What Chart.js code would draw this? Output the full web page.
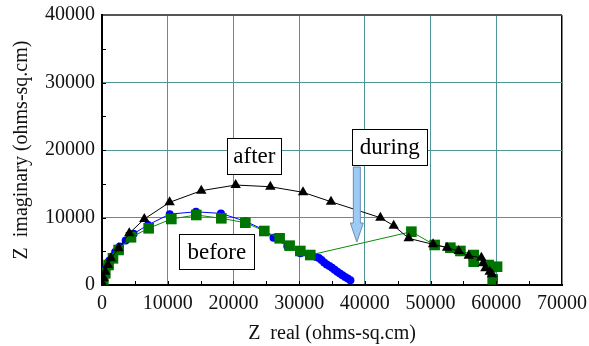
<!DOCTYPE html>
<html>
<head>
<meta charset="utf-8">
<script src="https://cdn.jsdelivr.net/npm/chart.js@4/dist/chart.umd.min.js"></script>
<style>
  html, body { margin: 0; padding: 0; background: #fff; }
  #wrap { width: 589px; height: 346px; }
</style>
</head>
<body>
<div id="wrap"><canvas id="nyquist"></canvas></div>
<script>
// ═══════════ DATA ═══════════
const xTicks = [0, 10000, 20000, 30000, 40000, 50000, 60000, 70000];
const yTicks = [0, 10000, 20000, 30000, 40000];

const afterX = [0, 250, 500, 900, 1370, 2530, 4150, 6440, 10290, 15110, 20340, 25620, 30590, 34850, 42360, 44390, 46670, 50380, 52510, 54280, 55800, 57730, 57990, 58340, 59000, 59360];
const afterY = [300, 1000, 1970, 2960, 3950, 5440, 7660, 9780, 12250, 13970, 14810, 14560, 13730, 12340, 9970, 8790, 6910, 6020, 5530, 5040, 4340, 4050, 3210, 2470, 1970, 1590];

const duringX = [0, 200, 500, 1000, 1670, 2530, 4410, 7100, 10550, 14350, 18160, 21810, 24700, 27030, 28550, 30180, 31700, 47080, 50620, 53010, 54540, 56560, 56560, 58840, 60120, 59450];
const duringY = [300, 800, 1730, 2960, 3950, 5190, 7070, 8400, 9780, 10370, 9880, 9230, 8000, 6920, 5830, 5040, 4440, 7900, 5930, 5530, 5040, 4440, 3450, 2960, 2710, 840];

const beforeX = [0, 100, 200, 350, 550, 800, 1100, 1500, 2000, 2700, 3600, 4800, 7000, 10300, 14300, 18100, 21800, 24700, 26100, 28200, 30200, 31800, 32600, 33000, 33400, 33800, 34200, 34600, 35000, 35400, 35800, 36200, 36600, 37000, 37400, 37800];
const beforeY = [300, 800, 1300, 1800, 2400, 3000, 3600, 4200, 4900, 5700, 6600, 7600, 8900, 10500, 10850, 10600, 9450, 8150, 7000, 5750, 4700, 4300, 4150, 4000, 3700, 3350, 3050, 2800, 2550, 2250, 1980, 1720, 1460, 1200, 950, 700];

const labels = [
    { text: 'after', x: 23180, y: 19110, w: 54, h: 36 },
    { text: 'before', x: 17470, y: 4930, w: 75, h: 35 },
    { text: 'during', x: 43800, y: 20440, w: 75, h: 36 }
];

const pts = (xs, ys) => xs.map((x, i) => ({ x: x, y: ys[i] }));
const SERIF = '"Liberation Serif", "Times New Roman", serif';

// ═══════════ PLUGINS ═══════════
const decor = {
    id: 'decor',
    afterDatasetsDraw(chart) {
        const { ctx, chartArea: a, scales: { x, y } } = chart;
        ctx.save();
        // inward ticks
        ctx.strokeStyle = '#000';
        ctx.lineWidth = 1;
        ctx.beginPath();
        for (let v = 5000; v < 70000; v += 5000) {
            const px = Math.round(x.getPixelForValue(v)) + 0.5;
            ctx.moveTo(px, a.bottom);
            ctx.lineTo(px, a.bottom - 4);
        }
        for (let v = 5000; v < 40000; v += 5000) {
            const py = Math.round(y.getPixelForValue(v)) + 0.5;
            ctx.moveTo(a.left, py);
            ctx.lineTo(a.left + 4, py);
        }
        ctx.stroke();

        // text boxes
        ctx.font = '23px ' + SERIF;
        ctx.textAlign = 'center';
        ctx.textBaseline = 'middle';
        labels.forEach(l => {
            const cx = x.getPixelForValue(l.x);
            const cy = y.getPixelForValue(l.y);
            const bx = Math.round(cx - l.w / 2) + 0.5;
            const by = Math.round(cy - l.h / 2) + 0.5;
            ctx.fillStyle = '#fff';
            ctx.fillRect(bx, by, l.w, l.h);
            ctx.strokeStyle = '#000';
            ctx.strokeRect(bx, by, l.w, l.h);
            ctx.fillStyle = '#000';
            ctx.fillText(l.text, cx, cy + 1);
        });

        // arrow under "during"
        const d = labels[2];
        const ax = x.getPixelForValue(d.x) - 33;
        const top = y.getPixelForValue(d.y) + d.h / 2 + 2;
        ctx.beginPath();
        ctx.moveTo(ax - 3.5, top);
        ctx.lineTo(ax + 3.5, top);
        ctx.lineTo(ax + 3.5, top + 56);
        ctx.lineTo(ax + 6.5, top + 56);
        ctx.lineTo(ax, top + 75);
        ctx.lineTo(ax - 6.5, top + 56);
        ctx.lineTo(ax - 3.5, top + 56);
        ctx.closePath();
        ctx.fillStyle = '#9dcbf5';
        ctx.fill();
        ctx.strokeStyle = '#6a8db5';
        ctx.stroke();
        ctx.restore();
    }
};

// ═══════════ CHART ═══════════
new Chart(document.getElementById('nyquist'), {
    type: 'scatter',
    data: {
        datasets: [
            {
                label: 'after', data: pts(afterX, afterY), showLine: true,
                borderColor: '#000', borderWidth: 1, backgroundColor: '#000',
                pointStyle: 'triangle', pointRadius: 6, pointBorderWidth: 0
            },
            {
                label: 'during', data: pts(duringX, duringY), showLine: true,
                borderColor: '#0a8a0a', borderWidth: 1, backgroundColor: '#007400',
                pointStyle: 'rect', pointRadius: 7.5, pointBorderWidth: 0
            },
            {
                label: 'before', data: pts(beforeX, beforeY), showLine: true,
                borderColor: '#0000ff', borderWidth: 1, backgroundColor: '#0000ff',
                pointStyle: 'circle', pointRadius: 4, pointBorderWidth: 0
            }
        ]
    },
    options: {
        responsive: true,
        maintainAspectRatio: false,
        animation: false,
        layout: { padding: { left: 0, right: 27, top: 15, bottom: 0 } },
        plugins: { legend: { display: false }, tooltip: { enabled: false } },
        scales: {
            x: {
                type: 'linear', min: 0, max: 70000,
                afterBuildTicks: s => { s.ticks = xTicks.map(v => ({ value: v })); },
                afterFit: s => { s.height = 61; s.paddingLeft = 0; s.paddingRight = 0; },
                ticks: {
                    padding: 7, color: '#111', maxRotation: 0,
                    font: { family: SERIF, size: 20 },
                    callback: v => String(v)
                },
                grid: {
                    drawTicks: false,
                    color: c => c.tick && c.tick.value === 70000 ? '#000' : '#4f9696',
                    lineWidth: c => c.tick && c.tick.value === 70000 ? 1.5 : 1
                },
                border: { color: '#000', width: 2 },
                title: {
                    display: true, text: 'Z  real (ohms-sq.cm)', color: '#111',
                    font: { family: SERIF, size: 20 }, padding: { top: 0, bottom: 0 }
                }
            },
            y: {
                type: 'linear', min: 0, max: 40000,
                afterBuildTicks: s => { s.ticks = yTicks.map(v => ({ value: v })); },
                afterFit: s => { s.width = 102; s.paddingTop = 0; s.paddingBottom = 0; },
                ticks: {
                    padding: 7, color: '#111',
                    font: { family: SERIF, size: 20 },
                    callback: v => String(v)
                },
                grid: {
                    drawTicks: false,
                    color: c => c.tick && c.tick.value === 40000 ? '#555' : '#4f9696',
                    lineWidth: c => c.tick && c.tick.value === 40000 ? 2 : 1
                },
                border: { color: '#000', width: 2 },
                title: {
                    display: true, text: 'Z  imaginary (ohms-sq.cm)', color: '#111',
                    font: { family: SERIF, size: 20 }, padding: { top: 10, bottom: 0 }
                }
            }
        }
    },
    plugins: [decor]
});
</script>
</body>
</html>
